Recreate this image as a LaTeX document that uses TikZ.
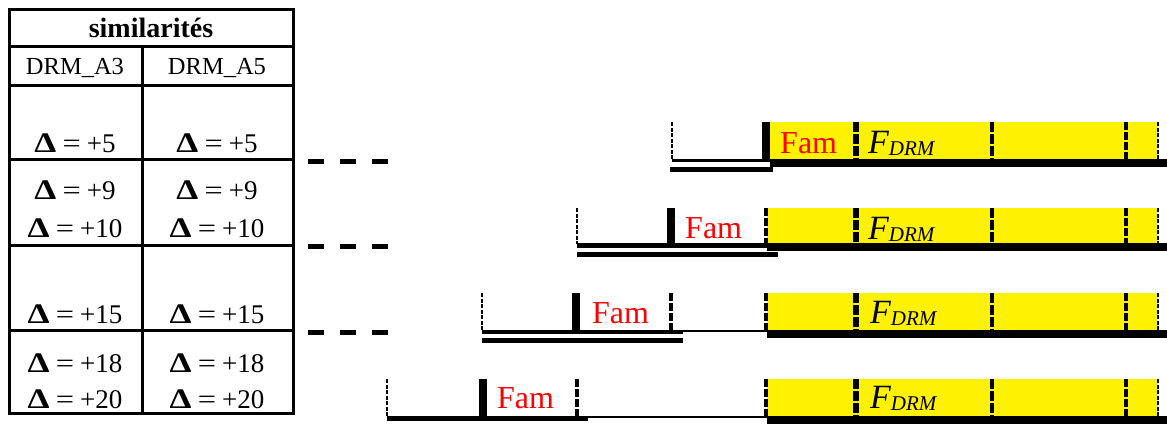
\documentclass[tikz,border=0pt]{standalone}
\usepackage{fontspec}
\setmainfont{Liberation Serif}
\newcommand{\fdrm}{F\raisebox{-2.5pt}{\fontsize{21}{21}\selectfont DRM}}
\newcommand{\dlt}[1]{\scalebox{1.3}[1.05]{\textbf{Δ}}\hspace{6pt}\scalebox{1.2}[1]{=}\hspace{6pt}+#1}
\tikzset{
  tabline/.style={line width=3pt},
  tabtext/.style={font=\fontsize{27}{29}\selectfont,anchor=base,inner sep=0pt},
  headtext/.style={font=\fontsize{24.5}{26}\selectfont,anchor=base,inner sep=0pt},
  famtext/.style={text=red,font=\fontsize{32}{34}\selectfont,anchor=base west,inner sep=0pt},
  fdrmtext/.style={font=\fontsize{34}{36}\selectfont\itshape,anchor=base west,inner sep=0pt},
  gapline/.style={line width=5pt,dash pattern=on 16pt off 16pt},
  edgeline/.style={line width=2pt,dash pattern=on 4pt off 1.5pt},
  famline/.style={line width=3.5pt,dash pattern=on 8pt off 2pt},
  sepline/.style={line width=5.5pt,dash pattern=on 10pt off 2pt},
  midline/.style={line width=3.5pt,dash pattern=on 10pt off 2pt},
}
\begin{document}
\begin{tikzpicture}[x=1pt,y=-1pt]
\useasboundingbox (0,0) rectangle (1167,423);

% table
\draw[tabline] (9,9) rectangle (293,413);
\draw[tabline] (9,46) -- (293,46);
\draw[tabline] (9,85) -- (293,85);
\draw[tabline] (9,159) -- (293,159);
\draw[tabline] (9,245) -- (293,245);
\draw[tabline] (9,330) -- (293,330);
\draw[tabline] (142,46) -- (142,413);
\node[font=\bfseries\fontsize{28}{30}\selectfont,anchor=base,inner sep=0pt] (title) at (151,37) {similarités};
\node[headtext] (drmA3) at (75,74) {DRM\_A3};
\node[headtext] (drmA5) at (217,74) {DRM\_A5};
\node[tabtext] (a3d5) at (75,152) {\dlt{5}};
\node[tabtext] (a5d5) at (217,152) {\dlt{5}};
\node[tabtext] (a3d9) at (75,199) {\dlt{9}};
\node[tabtext] (a5d9) at (217,199) {\dlt{9}};
\node[tabtext] (a3d10) at (75,237) {\dlt{10}};
\node[tabtext] (a5d10) at (217,237) {\dlt{10}};
\node[tabtext] (a3d15) at (75,323) {\dlt{15}};
\node[tabtext] (a5d15) at (217,323) {\dlt{15}};
\node[tabtext] (a3d18) at (75,372) {\dlt{18}};
\node[tabtext] (a5d18) at (217,372) {\dlt{18}};
\node[tabtext] (a3d20) at (75,408) {\dlt{20}};
\node[tabtext] (a5d20) at (217,408) {\dlt{20}};

% dashes between table and rows
\draw[gapline] (308,161) -- (390,161);
\draw[gapline] (308,246) -- (390,246);
\draw[gapline] (308,332) -- (390,332);

% row 1
\fill[yellow] (770,122) rectangle (1158,159);
\fill (770,159) rectangle (1167,167);
\fill (672,159) rectangle (770,162);
\fill (670,167) rectangle (773,172);
\draw[edgeline] (672,122) -- (672,160);
\fill (762,122) rectangle (770,162);
\draw[sepline] (856,122) -- (856,159);
\draw[midline] (992,122) -- (992,159);
\draw[famline] (1126,122) -- (1126,159);
\draw[edgeline] (1158,122) -- (1158,159);
\node[famtext] (fam1) at (780,153) {Fam};
\node[fdrmtext] (fdrm1) at (868,153) {\fdrm};

% row 2
\fill[yellow] (767,208) rectangle (1158,243);
\fill (767,243) rectangle (1167,251);
\fill (577,243) rectangle (767,248);
\fill (577,252) rectangle (778,257);
\draw[edgeline] (577,208) -- (577,244);
\fill (667,208) rectangle (675,246);
\draw[famline] (766,208) -- (766,243);
\draw[sepline] (856,208) -- (856,243);
\draw[midline] (992,208) -- (992,243);
\draw[famline] (1126,208) -- (1126,243);
\draw[edgeline] (1158,208) -- (1158,243);
\node[famtext] (fam2) at (685,238) {Fam};
\node[fdrmtext] (fdrm2) at (868,239) {\fdrm};

% row 3
\fill[yellow] (767,293) rectangle (1158,330);
\fill (767,330) rectangle (1167,338);
\fill (482,330) rectangle (683,334);
\fill (683,330) rectangle (767,332);
\fill (482,338) rectangle (683,343);
\draw[edgeline] (482,293) -- (482,331);
\fill (572,293) rectangle (580,332);
\draw[famline] (671,293) -- (671,330);
\draw[famline] (766,293) -- (766,330);
\draw[sepline] (856,293) -- (856,330);
\draw[midline] (992,293) -- (992,330);
\draw[famline] (1126,293) -- (1126,330);
\draw[edgeline] (1158,293) -- (1158,330);
\node[famtext] (fam3) at (592,323) {Fam};
\node[fdrmtext] (fdrm3) at (870,323) {\fdrm};

% row 4
\fill[yellow] (767,379) rectangle (1158,416);
\fill (767,416) rectangle (1167,424);
\fill (387,416) rectangle (588,421);
\fill (588,416) rectangle (767,418);
\draw[edgeline] (387,379) -- (387,417);
\fill (479,379) rectangle (487,418);
\draw[famline] (577,379) -- (577,416);
\draw[famline] (766,379) -- (766,416);
\draw[sepline] (856,379) -- (856,416);
\draw[midline] (992,379) -- (992,416);
\draw[famline] (1126,379) -- (1126,416);
\draw[edgeline] (1158,379) -- (1158,416);
\node[famtext] (fam4) at (497,408) {Fam};
\node[fdrmtext] (fdrm4) at (870,408) {\fdrm};
\end{tikzpicture}
\end{document}
